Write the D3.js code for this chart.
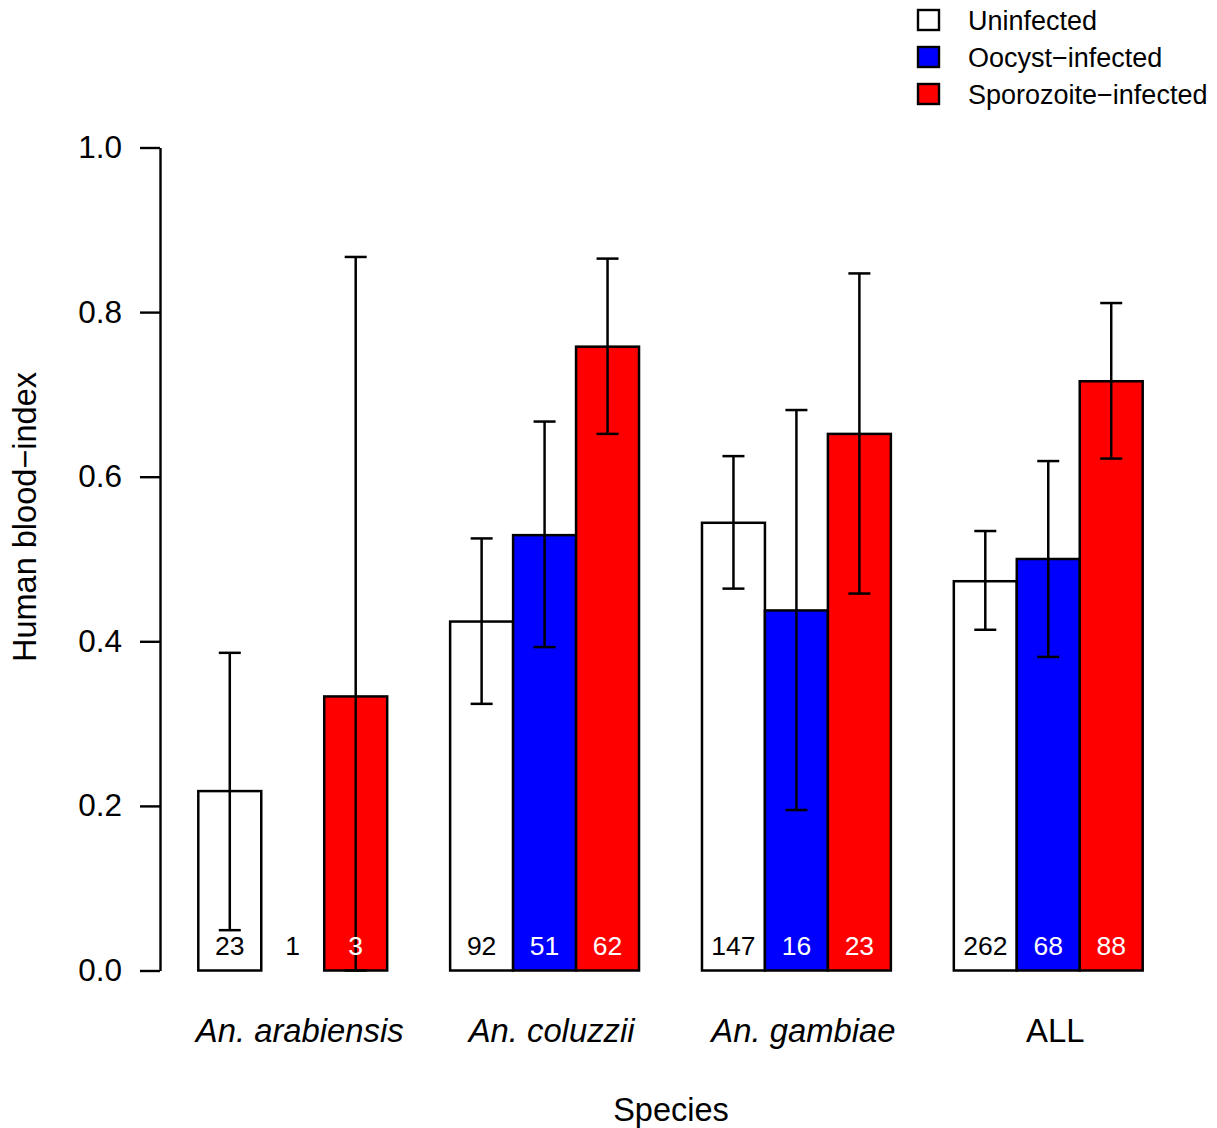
<!DOCTYPE html>
<meta charset="utf-8">
<script src="https://d3js.org/d3.v7.min.js"></script>
<style>
  body { margin: 0; background: #fff; }
  svg text { font-family: "Liberation Sans", Arial, sans-serif; fill: #000; }
</style>
<div id="my_dataviz"></div>
<script>

// data
var species = ["An. arabiensis", "An. coluzzii", "An. gambiae", "ALL"];
var italicSpecies = [true, true, true, false];
var groups = ["Uninfected", "Oocyst\u2212infected", "Sporozoite\u2212infected"];
var groupColors = ["#ffffff", "#0000ff", "#ff0000"];

var uninfected = [0.218, 0.424, 0.544, 0.473];
var uninfectedLow = [0.049, 0.324, 0.464, 0.414];
var uninfectedHigh = [0.386, 0.525, 0.625, 0.534];
var uninfectedN = [23, 92, 147, 262];

var oocyst = [0, 0.529, 0.4375, 0.5];
var oocystLow = [null, 0.393, 0.195, 0.381];
var oocystHigh = [null, 0.667, 0.681, 0.619];
var oocystN = [1, 51, 16, 68];

var sporozoite = [0.333, 0.758, 0.652, 0.716];
var sporozoiteLow = [0, 0.652, 0.458, 0.622];
var sporozoiteHigh = [0.867, 0.865, 0.847, 0.811];
var sporozoiteN = [3, 62, 23, 88];

var yTicks = [0, 0.2, 0.4, 0.6, 0.8, 1.0];

// build rows
var series = [
  {val: uninfected, lo: uninfectedLow, hi: uninfectedHigh, n: uninfectedN},
  {val: oocyst, lo: oocystLow, hi: oocystHigh, n: oocystN},
  {val: sporozoite, lo: sporozoiteLow, hi: sporozoiteHigh, n: sporozoiteN}
];
var bars = [];
species.forEach(function(sp, g) {
  series.forEach(function(s, j) {
    bars.push({g: g, j: j, value: s.val[g], lo: s.lo[g], hi: s.hi[g], n: s.n[g]});
  });
});

var W = 1217, H = 1128;
var svg = d3.select("#my_dataviz")
  .append("svg")
    .attr("width", W)
    .attr("height", H);

// bar units: group g, bar j starts at 1 + 4g + j
var x = d3.scaleLinear().domain([1, 16]).range([198.3, 1142.7]);
var y = d3.scaleLinear().domain([0, 1]).range([970.5, 147.5]);
var unit = x(2) - x(1);

// y axis
var yAxis = svg.append("g")
  .attr("transform", "translate(160,0)")
  .call(d3.axisLeft(y).tickValues(yTicks).tickFormat(d3.format(".1f"))
    .tickSize(20).tickSizeOuter(0).tickPadding(18));
yAxis.select(".domain").attr("stroke-width", 2.4);
yAxis.selectAll(".tick line").attr("stroke-width", 2.4);
yAxis.selectAll(".tick text")
  .attr("font-size", "31.5px")
  .attr("fill", "#000");

// bars
svg.selectAll("rect.bar")
  .data(bars)
  .enter()
  .append("rect")
    .attr("class", "bar")
    .attr("x", function(d) { return x(1 + 4 * d.g + d.j); })
    .attr("y", function(d) { return y(d.value); })
    .attr("width", unit)
    .attr("height", function(d) { return y(0) - y(d.value); })
    .attr("fill", function(d) { return groupColors[d.j]; })
    .attr("stroke", "#000")
    .attr("stroke-width", 2.5);

// error bars
var errs = bars.filter(function(d) { return d.lo != null && d.hi != null; });
var cap = 11;
var eb = svg.selectAll("g.err")
  .data(errs)
  .enter()
  .append("g")
    .attr("class", "err")
    .attr("stroke", "#000")
    .attr("stroke-width", 2.5);
eb.append("line")
  .attr("x1", function(d) { return x(1.5 + 4 * d.g + d.j); })
  .attr("x2", function(d) { return x(1.5 + 4 * d.g + d.j); })
  .attr("y1", function(d) { return y(d.lo); })
  .attr("y2", function(d) { return y(d.hi); });
eb.append("line")
  .attr("x1", function(d) { return x(1.5 + 4 * d.g + d.j) - cap; })
  .attr("x2", function(d) { return x(1.5 + 4 * d.g + d.j) + cap; })
  .attr("y1", function(d) { return y(d.hi); })
  .attr("y2", function(d) { return y(d.hi); });
eb.append("line")
  .attr("x1", function(d) { return x(1.5 + 4 * d.g + d.j) - cap; })
  .attr("x2", function(d) { return x(1.5 + 4 * d.g + d.j) + cap; })
  .attr("y1", function(d) { return y(d.lo); })
  .attr("y2", function(d) { return y(d.lo); });

// sample sizes
svg.selectAll("text.count")
  .data(bars)
  .enter()
  .append("text")
    .attr("class", "count")
    .attr("x", function(d) { return x(1.5 + 4 * d.g + d.j); })
    .attr("y", 954.5)
    .attr("text-anchor", "middle")
    .attr("font-size", "26.5px")
    .style("fill", function(d) { return (d.j > 0 && d.value > 0.05) ? "#fff" : "#000"; })
    .text(function(d) { return d.n; });

// species labels
svg.selectAll("text.species")
  .data(species)
  .enter()
  .append("text")
    .attr("class", "species")
    .attr("x", function(d, i) { return x(2.5 + 4 * i) + 7; })
    .attr("y", 1041.5)
    .attr("text-anchor", "middle")
    .attr("font-size", "32.8px")
    .attr("font-style", function(d, i) { return italicSpecies[i] ? "italic" : "normal"; })
    .text(function(d) { return d; });

// axis titles
svg.append("text")
  .attr("x", 671)
  .attr("y", 1121)
  .attr("text-anchor", "middle")
  .attr("font-size", "32.5px")
  .text("Species");

svg.append("text")
  .attr("transform", "translate(36,517)rotate(-90)")
  .attr("text-anchor", "middle")
  .attr("font-size", "32.5px")
  .text("Human blood\u2212index");

// legend
var legend = svg.selectAll("g.legend")
  .data(groups)
  .enter()
  .append("g")
    .attr("class", "legend")
    .attr("transform", function(d, i) { return "translate(918," + (20 + 37 * i) + ")"; });
legend.append("rect")
  .attr("x", 0)
  .attr("y", -10)
  .attr("width", 21)
  .attr("height", 20)
  .attr("fill", function(d, i) { return groupColors[i]; })
  .attr("stroke", "#000")
  .attr("stroke-width", 2.4);
legend.append("text")
  .attr("x", 50)
  .attr("y", 9.5)
  .attr("font-size", "27px")
  .text(function(d) { return d; });

</script>
